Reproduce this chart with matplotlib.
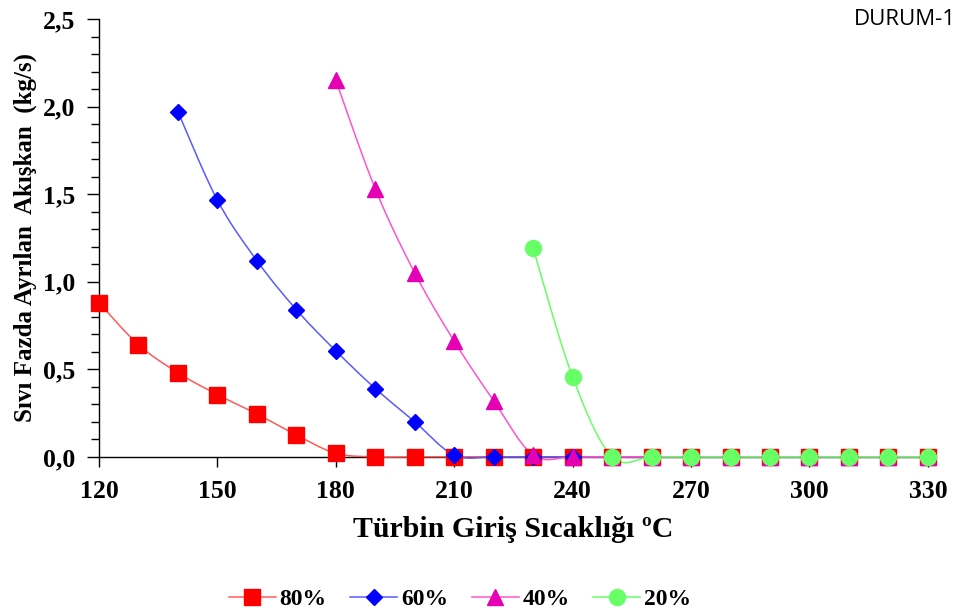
import numpy as np
import matplotlib
matplotlib.use("Agg")
import matplotlib.pyplot as plt
from matplotlib.ticker import MultipleLocator, FuncFormatter

# Turbine inlet temperature (°C)
temps = list(range(120, 340, 10))

# Liquid-phase separated flow (kg/s) for each case
x80 = temps
y80 = [0.88, 0.64, 0.48, 0.355, 0.245, 0.125, 0.02, 0.0, 0.0, 0.0, 0.0,
       0.0, 0.0, 0.0, 0.0, 0.0, 0.0, 0.0, 0.0, 0.0, 0.0, 0.0]
x60 = temps[2:]
y60 = [1.97, 1.465, 1.12, 0.84, 0.605, 0.39, 0.2, 0.01, 0.0, 0.0, 0.0,
       0.0, 0.0, 0.0, 0.0, 0.0, 0.0, 0.0, 0.0, 0.0]
x40 = temps[6:]
y40 = [2.15, 1.53, 1.05, 0.66, 0.32, 0.01, 0.0, 0.0, 0.0, 0.0, 0.0, 0.0,
       0.0, 0.0, 0.0, 0.0]
x20 = temps[11:]
y20 = [1.19, 0.455, 0.0, 0.0, 0.0, 0.0, 0.0, 0.0, 0.0, 0.0, 0.0]

labels = ["80%", "60%", "40%", "20%"]


def smooth(xs, ys, n=24):
    """Cubic Bezier smoothing through every point (spreadsheet-style)."""
    p = np.column_stack([xs, ys]).astype(float)
    if len(p) < 3:
        return p[:, 0], p[:, 1]
    ext = np.vstack([p[0], p, p[-1]])
    out = []
    t = np.linspace(0, 1, n)[:, None]
    for i in range(1, len(ext) - 2):
        p0, p1, p2, p3 = ext[i - 1], ext[i], ext[i + 1], ext[i + 2]
        c1 = p1 + (p2 - p0) / 6.0
        c2 = p2 - (p3 - p1) / 6.0
        seg = ((1 - t) ** 3) * p1 + 3 * ((1 - t) ** 2) * t * c1 \
            + 3 * (1 - t) * t ** 2 * c2 + t ** 3 * p2
        out.append(seg if i == 1 else seg[1:])
    s = np.vstack(out)
    return s[:, 0], s[:, 1]


plt.rcParams["font.family"] = ["Liberation Serif", "DejaVu Serif"]

fig = plt.figure(figsize=(9.66, 6.14), dpi=100)
ax = fig.add_axes([0.1025, 0.256, 0.858, 0.713])

series = [
    (x80, y80, "#FF0000", "#FF5A5A", "s", 11),
    (x60, y60, "#0000FF", "#5A5AFF", "D", 8.5),
    (x40, y40, "#E600B4", "#FF55CC", "^", 11.5),
    (x20, y20, "#66FF66", "#66FF66", "o", 11.5),
]

handles = []
for (xs, ys, mc, lc, mk, ms), lab in zip(series, labels):
    sx, sy = smooth(xs, ys)
    ax.plot(sx, sy, color=lc, lw=1.1, clip_on=False, zorder=3)
    ax.plot(xs, ys, ls="none", marker=mk, ms=ms, color=mc, mec=mc,
            clip_on=False, zorder=4)
    h, = ax.plot([], [], color=lc, lw=1.1, marker=mk, ms=ms, mfc=mc, mec=mc)
    handles.append(h)

ax.set_xlim(120, 330)
ax.set_ylim(0, 2.5)
ax.xaxis.set_major_locator(MultipleLocator(30))
ax.yaxis.set_major_locator(MultipleLocator(0.5))
ax.yaxis.set_minor_locator(MultipleLocator(0.1))
ax.yaxis.set_major_formatter(FuncFormatter(lambda v, _: f"{v:.1f}".replace(".", ",")))

for s in ("top", "right"):
    ax.spines[s].set_visible(False)
for s in ("left", "bottom"):
    ax.spines[s].set_linewidth(1.0)
    ax.spines[s].set_zorder(2)

ax.tick_params(axis="y", which="major", direction="out", length=9, width=1,
               pad=8, labelsize=18.5)
ax.tick_params(axis="y", which="minor", direction="out", length=6, width=1)
ax.tick_params(axis="x", which="major", direction="out", length=7, width=1,
               pad=10, labelsize=18.5)
for lbl in ax.get_xticklabels() + ax.get_yticklabels():
    lbl.set_fontweight("bold")

ax.set_xlabel("Türbin Giriş Sıcaklığı ºC", fontsize=21.5, fontweight="bold",
              labelpad=9)
ax.set_ylabel("Sıvı Fazda Ayrılan  Akışkan  (kg/s)", fontsize=18,
              fontweight="bold", labelpad=4)

fig.text(0.99, 0.969, "DURUM-1", fontsize=16, ha="right", va="center",
         family=["Open Sans", "DejaVu Sans"])

fig.legend(handles, labels, loc="center", bbox_to_anchor=(0.476, 0.024),
           ncol=4, frameon=False, prop={"weight": "bold", "size": 17},
           handlelength=2.0, handletextpad=0.15, columnspacing=1.0)

fig.savefig("out.png", dpi=100)
